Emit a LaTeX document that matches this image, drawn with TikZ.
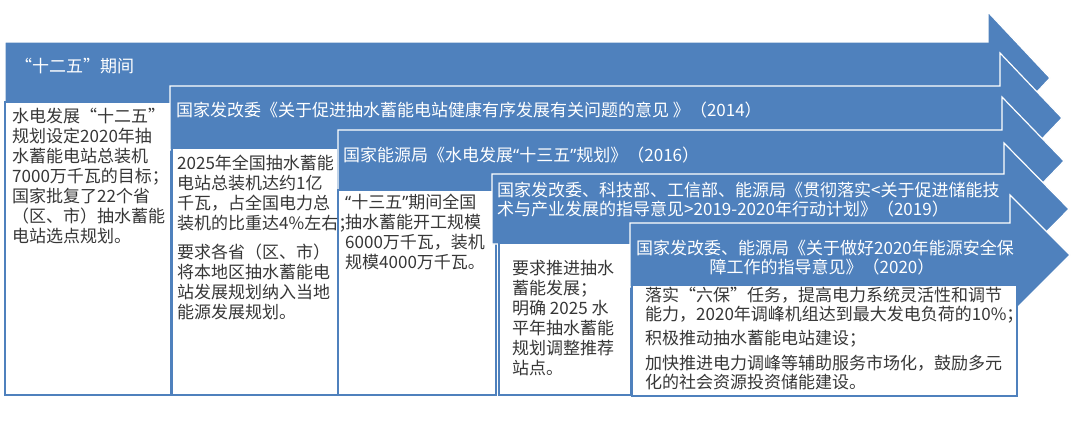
\documentclass[tikz,border=0pt]{standalone}
\usepackage{fontspec}
\setmainfont{Noto Sans CJK SC}
\newfontfamily\nq{Noto Sans}
\definecolor{ablue}{RGB}{79,129,189}
\definecolor{tgray}{RGB}{55,55,55}
\newcommand{\policyarrow}[6]{% x0, T, B, xh, H, xtip
  \draw[arrowshape] (#1,#2) -- (#4,#2) -- (#4,#5) -- (#6,{(#2+#3)/2}) -- (#4,{#2+#3-#5}) -- (#4,#3) -- (#1,#3) -- cycle;}
\begin{document}
\begin{tikzpicture}[x=1pt,y=-1pt,
  arrowshape/.style={fill=ablue,draw=white,line width=1.2pt,line join=miter},
  boxshape/.style={fill=white,draw=ablue,line width=1.6pt},
  atext/.style={text=white,font=\fontsize{17}{20}\selectfont,inner sep=0pt,anchor=base west},
  btext/.style={text=tgray,font=\fontsize{17}{20}\selectfont,inner sep=0pt,anchor=base west}]
\useasboundingbox (0,0) rectangle (1080,424);
\fill[white] (0,0) rectangle (1080,424);
% arrows and boxes
\policyarrow{5}{42}{114}{988}{12}{1050}
\draw[boxshape] (5,102) rectangle (171,395);
\policyarrow{170}{86}{150}{1000}{53}{1062}
\draw[boxshape] (172,148) rectangle (338,395);
\policyarrow{338}{130}{192}{1002}{97}{1064}
\draw[boxshape] (338,190) rectangle (496,395);
\policyarrow{492}{174}{244}{1004}{143}{1069}
\draw[boxshape] (499,243) rectangle (631,395);
\policyarrow{630}{223}{287}{1010}{195}{1070}
\draw[boxshape] (632,285) rectangle (1017,396);
% arrow labels
\node[atext] (a1) at (15,72.5) {“十二五”期间};
\node[atext] (a2) at (176,116.5) {国家发改委《关于促进抽水蓄能电站健康有序发展有关问题的意见 》（2014）};
\node[atext] (a3) at (343,161.5) {国家能源局《水电发展{\nq “}十三五{\nq ”}规划》（2016）};
\node[atext] (a4a) at (497,196.5) {国家发改委、科技部、工信部、能源局《贯彻落实<关于促进储能技};
\node[atext] (a4b) at (497,215.5) {术与产业发展的指导意见>2019-2020年行动计划》（2019）};
\node[atext,anchor=base] (a5a) at (825,254.5) {国家发改委、能源局《关于做好2020年能源安全保};
\node[atext,anchor=base] (a5b) at (822,273.5) {障工作的指导意见》（2020）};
% box texts
\foreach \t [count=\i from 0] in {{水电发展“十二五”},{规划设定2020年抽},{水蓄能电站总装机},{7000万千瓦的目标；},{国家批复了22个省},{（区、市）抽水蓄能},{电站选点规划。}}
  \node[btext] (b1-\i) at (12,{122.5+20*\i}) {\t};
\foreach \t [count=\i from 0] in {{2025年全国抽水蓄能},{电站总装机达约1亿},{千瓦，占全国电力总},{装机的比重达4\%左右；}}
  \node[btext] (b2-\i) at (177,{169.5+20*\i}) {\t};
\foreach \t [count=\i from 0] in {{要求各省（区、市）},{将本地区抽水蓄能电},{站发展规划纳入当地},{能源发展规划。}}
  \node[btext] (b2p-\i) at (177,{258.5+20*\i}) {\t};
\foreach \t [count=\i from 0] in {{{\nq “}十三五{\nq ”}期间全国},{抽水蓄能开工规模},{6000万千瓦，装机},{规模4000万千瓦。}}
  \node[btext] (b3-\i) at (345,{208.5+20*\i}) {\t};
\foreach \t [count=\i from 0] in {{要求推进抽水},{蓄能发展；},{明确 2025 水},{平年抽水蓄能},{规划调整推荐},{站点。}}
  \node[btext] (b4-\i) at (512,{274.5+20*\i}) {\t};
\foreach \t [count=\i from 0] in {{落实“六保”任务，提高电力系统灵活性和调节},{能力，2020年调峰机组达到最大发电负荷的10\%；}}
  \node[btext] (b5-\i) at (645,{301.5+18.5*\i}) {\t};
\node[btext] (b5-2) at (645,344.5) {积极推动抽水蓄能电站建设；};
\foreach \t [count=\i from 0] in {{加快推进电力调峰等辅助服务市场化，鼓励多元},{化的社会资源投资储能建设。}}
  \node[btext] (b5p-\i) at (645,{369.5+18.5*\i}) {\t};
\end{tikzpicture}
\end{document}
